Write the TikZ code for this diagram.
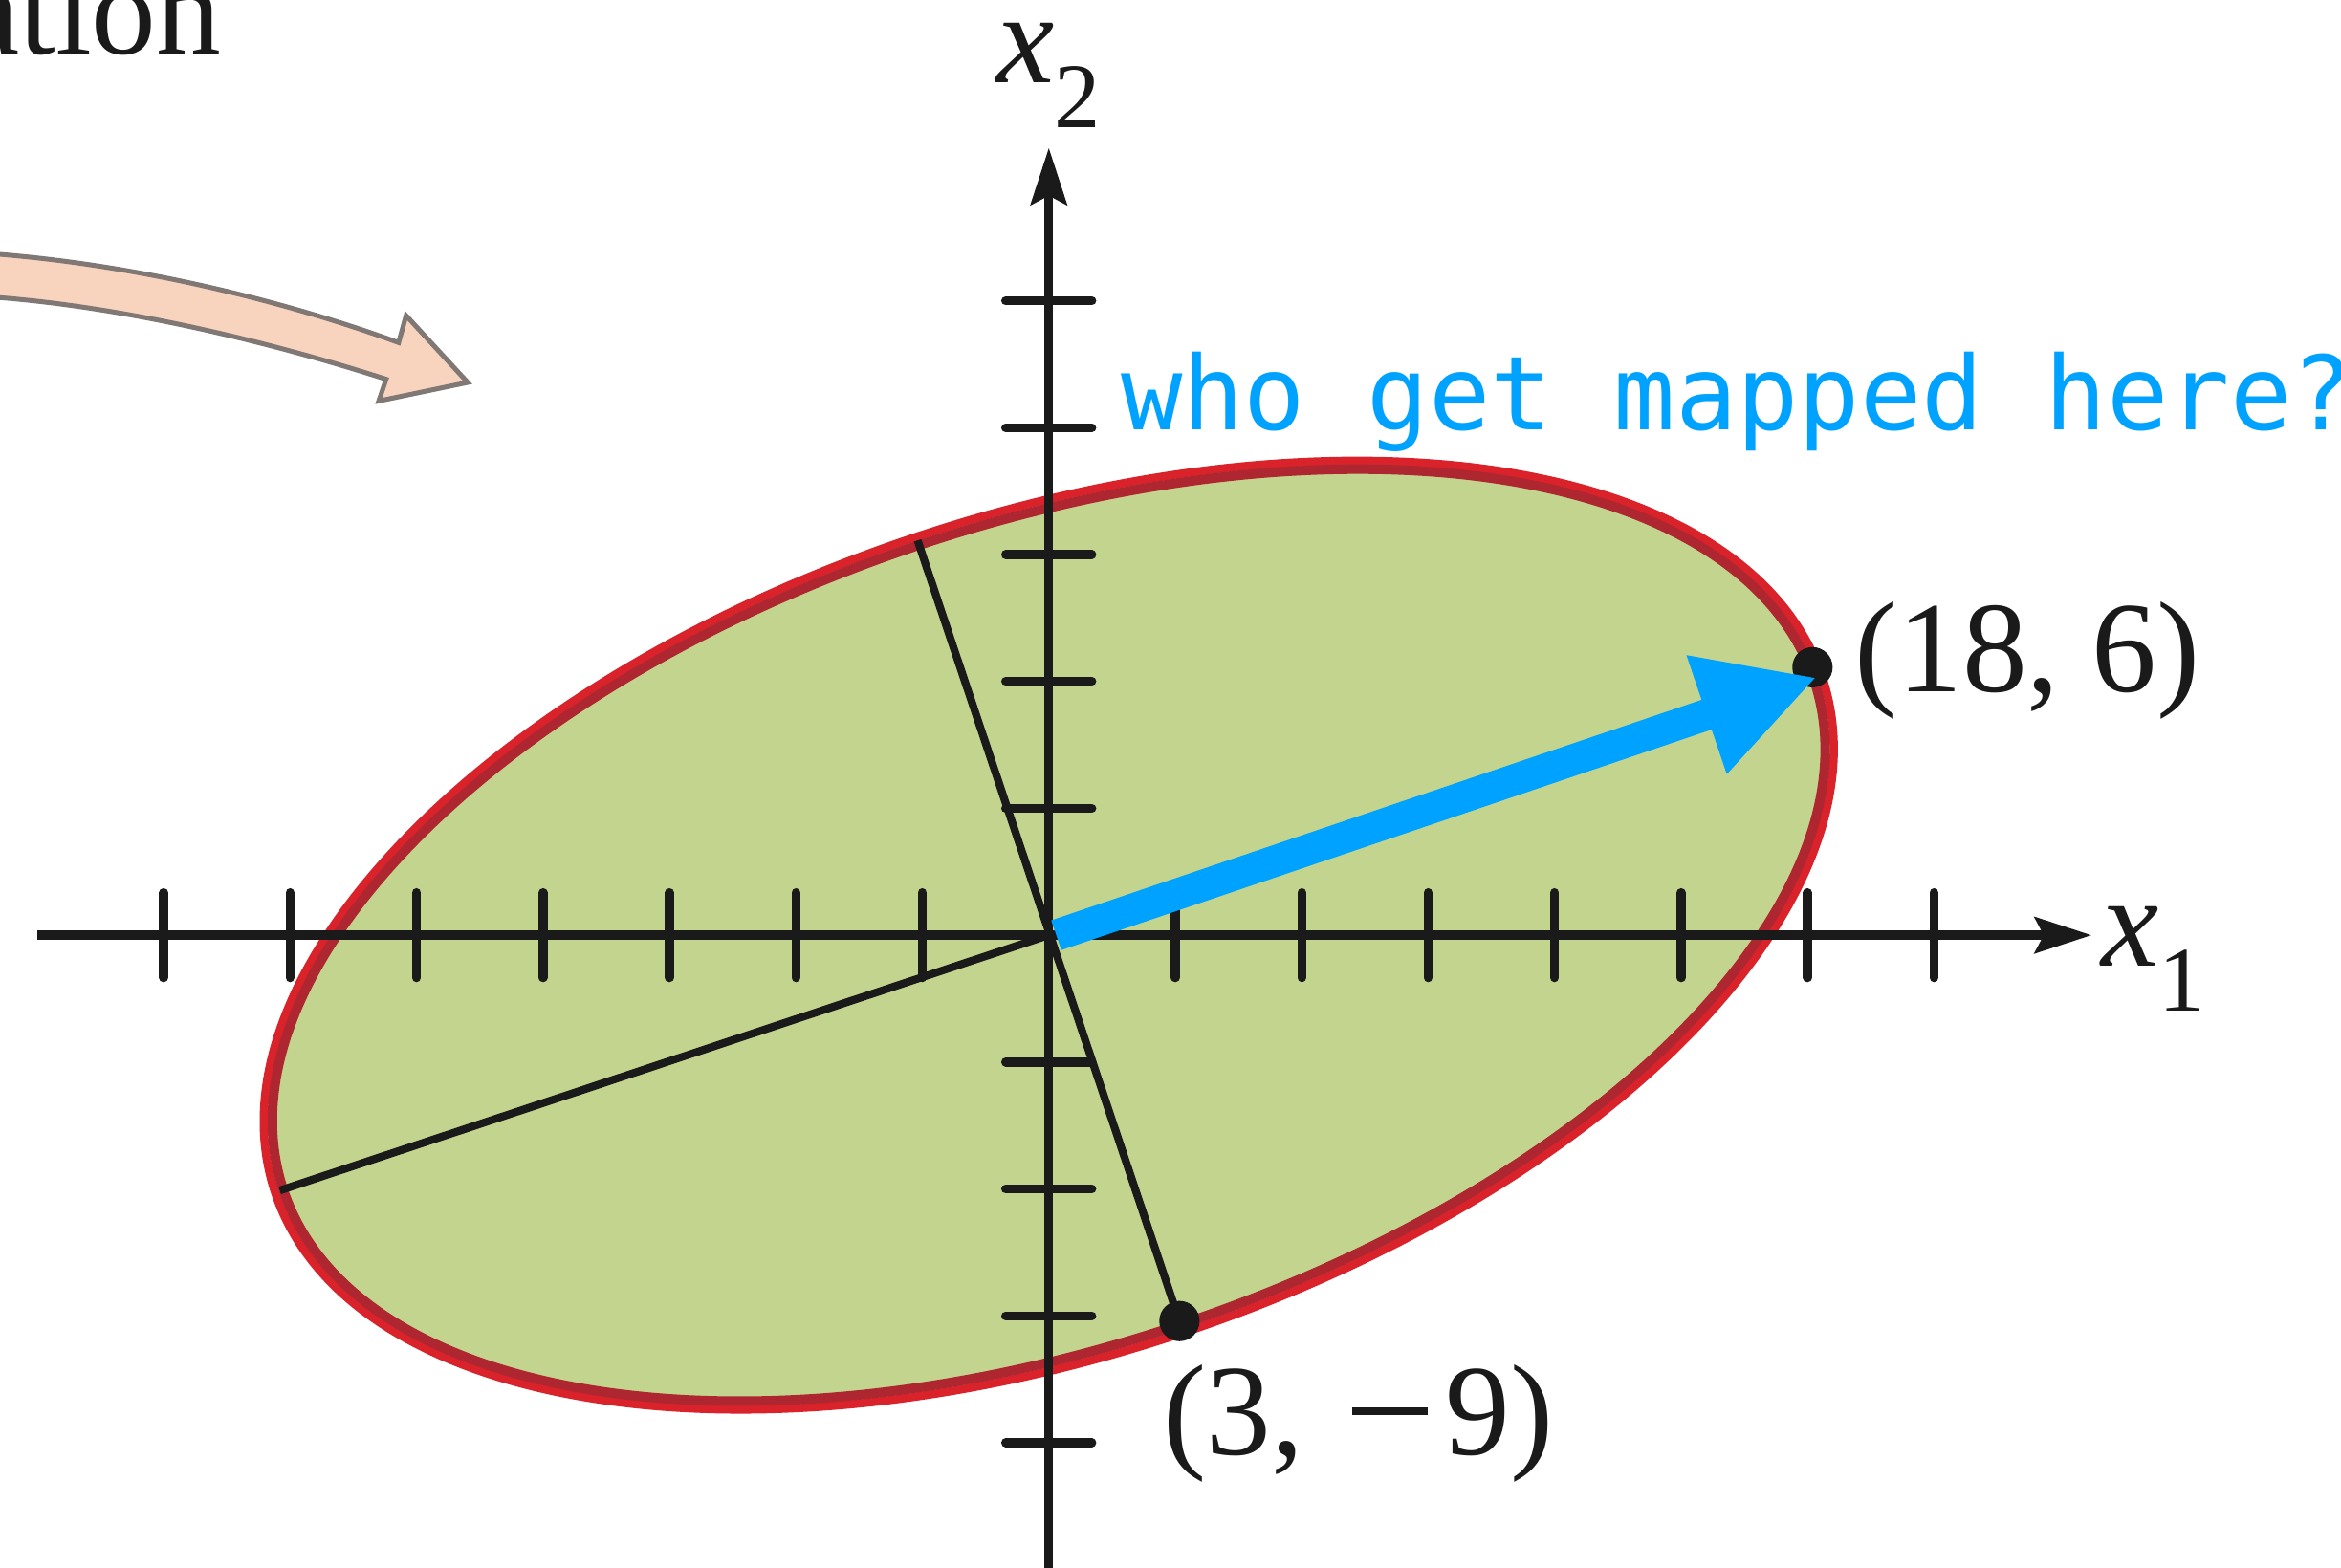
\documentclass[tikz,border=0pt]{standalone}
\usepackage{fontspec}
\setmainfont{Liberation Serif}
\newfontfamily\monofont{DejaVu Sans Mono}
\usetikzlibrary{arrows.meta,calc}

\definecolor{inkblack}{RGB}{26,26,26}
\definecolor{ellfill}{RGB}{195,212,142}
\definecolor{redout}{RGB}{218,34,42}
\definecolor{reddark}{RGB}{174,38,48}
\definecolor{blueA}{RGB}{0,162,255}
\definecolor{peach}{RGB}{248,211,190}
\definecolor{peachline}{RGB}{128,120,117}

\begin{document}
\begin{tikzpicture}[x=0.01cm,y=-0.01cm,
  axisline/.style={draw=inkblack,line width=0.06cm},
  tickmark/.style={draw=inkblack,line width=0.06cm,line cap=round},
  semiaxis/.style={draw=inkblack,line width=0.052cm},
  serif/.style={font=\fontsize{24.7}{30}\selectfont,text=inkblack,inner sep=0pt},
  mono/.style={font=\monofont\fontsize{19.5}{24}\selectfont,text=blueA,inner sep=0pt},
  axtip/.style={-{Stealth[length=0.38cm,width=0.24cm,inset=0.06cm]}},
]
\useasboundingbox (0,0) rectangle (1568,1050);
\clip (0,0) rectangle (1568,1050);

% coordinates
\coordinate (O) at (702.5,626.5);
\coordinate (xstart) at (25,626.5);
\coordinate (xend) at (1401,626.5);
\coordinate (ystart) at (702.5,1060);
\coordinate (yend) at (702.5,99);
\coordinate (majL) at (187.4,797.5);
\coordinate (minT) at (614.6,362);
\coordinate (P39) at (790,885);
\coordinate (P186) at (1214,447);
\coordinate (bstart) at (707.5,626.5);
\coordinate (btip) at (1217,453.7);

% peach arrow
\draw[peachline, line width=0.032cm, fill=peach, line join=miter]
  (-5,170) .. controls (100,178) and (200,205) .. (267,229.5)
  -- (272,211.4) -- (313.3,256.2) -- (253.7,268.6) -- (258.6,254)
  .. controls (190,232) and (90,206) .. (-5,199) -- cycle;

% ellipse
\fill[ellfill, rotate around={18.43:(O)}] (O) ellipse [x radius=543, y radius=278];
\draw[redout, line width=0.055cm, rotate around={18.43:(O)}] (O) ellipse [x radius=546.2, y radius=281.2];
\draw[reddark, line width=0.064cm, rotate around={18.43:(O)}] (O) ellipse [x radius=540.4, y radius=275.4];

% axes
\draw[axisline, axtip] (xstart) -- (xend);
\draw[axisline, axtip] (ystart) -- (yend);
\foreach \k in {-7,...,-1,1,2,...,7}
  \draw[tickmark] (702.5+\k*84.7,598) -- (702.5+\k*84.7,655);
\foreach \k in {-4,...,-1,1,2,...,5}
  \draw[tickmark] (673.6,626.5-\k*85) -- (731.3,626.5-\k*85);

% semi-axes
\draw[semiaxis] (majL) -- (O);
\draw[semiaxis] (minT) -- (P39);

% dots
\fill[inkblack] (P39) circle [radius=13.5];
\fill[inkblack] (P186) circle [radius=13.5];

% blue arrow
\draw[blueA, line width=0.21cm, -{Triangle[length=0.78cm,width=0.78cm]}] (bstart) -- (btip);

% labels
\node[serif, anchor=base east] (ation) at (149,36) {ation};
\node[serif, anchor=base west] (lab186) at (1241.4,463.3) {(18, 6)};
\node[serif, anchor=base west] (lab39) at (778.3,974.7) {(3,\hspace{0.325cm}\rule[0.268cm]{0.506cm}{0.053cm}\hspace{0.12cm}9)};
\node[serif, anchor=base west] (labx2) at (667,55.7) {\textit{x}\raisebox{-0.297cm}{\fontsize{17.6}{20}\selectfont 2}};
\node[serif, anchor=base west] (labx1) at (1407,647) {\textit{x}\raisebox{-0.305cm}{\fontsize{17.6}{20}\selectfont 1}};
\node[mono, anchor=base west] (question) at (750,288) {who get mapped here?};
\end{tikzpicture}
\end{document}
